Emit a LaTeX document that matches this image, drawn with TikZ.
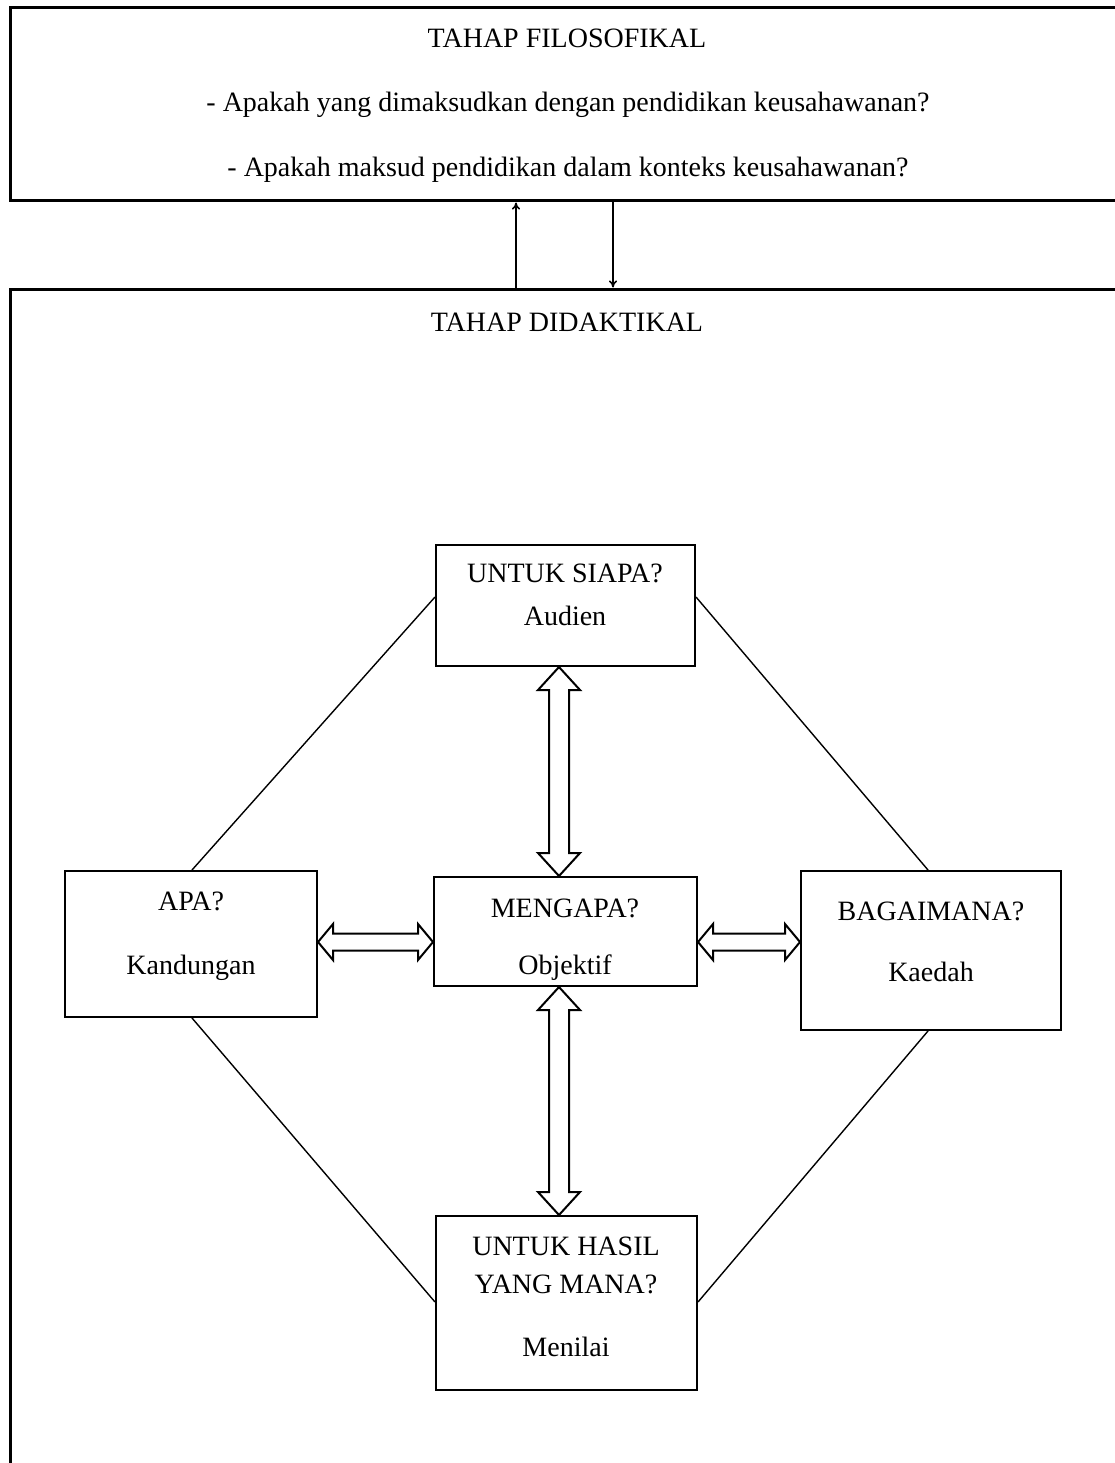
\documentclass[tikz,border=0pt]{standalone}
\usepackage{fontspec}
\setmainfont{Liberation Serif}
\usetikzlibrary{calc,arrows.meta}
\begin{document}
\begin{tikzpicture}[x=1pt,y=-1pt,
  bigbox/.style={draw, line width=3pt, rectangle, inner sep=0pt},
  smallbox/.style={draw, line width=2pt, rectangle, inner sep=0pt},
  txt/.style={inner sep=0pt, font=\fontsize{28}{34}\selectfont},
  link/.style={line width=1.4pt},
  thinarrow/.style={line width=1.6pt, -{To[length=7pt,width=8pt]}},
  fatarrow/.style={draw, line width=2pt, fill=white, line join=miter}
]
\useasboundingbox (0,0) rectangle (1115,1463);
\clip (0,0) rectangle (1115,1463);

% top box
\node[bigbox, minimum width=1115pt, minimum height=193pt] (filo) at (567.5,104.5) {};
\node[txt] (t1) at (567,38) {TAHAP FILOSOFIKAL};
\node[txt] (t2) at (568,105) {- Apakah yang dimaksudkan dengan pendidikan keusahawanan?};
\node[txt] (t3) at (568,170) {- Apakah maksud pendidikan dalam konteks keusahawanan?};

% big box
\node[bigbox, minimum width=1115pt, minimum height=1186pt] (dida) at (567.5,882) {};
\node[txt] (t4) at (567,322) {TAHAP DIDAKTIKAL};

% thin arrows
\coordinate (ua) at (516,0);
\coordinate (da) at (613,0);
\draw[thinarrow] (dida.north -| ua) -- (filo.south -| ua);
\draw[thinarrow] (filo.south -| da) -- (dida.north -| da);

% inner boxes
\node[smallbox, minimum width=259pt, minimum height=121pt] (siapa) at (565.5,605.5) {};
\node[txt] (s1) at (565,573) {UNTUK SIAPA?};
\node[txt] (s2) at (565,616) {Audien};

\node[smallbox, minimum width=263pt, minimum height=109pt] (mengapa) at (565.5,931.5) {};
\node[txt] (m1) at (565,908) {MENGAPA?};
\node[txt] (m2) at (565,968) {Objektif};

\node[smallbox, minimum width=252pt, minimum height=146pt] (apa) at (191,944) {};
\node[txt] (a1) at (191,901) {APA?};
\node[txt] (a2) at (191,968) {Kandungan};

\node[smallbox, minimum width=260pt, minimum height=159pt] (bagai) at (931,950.5) {};
\node[txt] (b1) at (931,911) {BAGAIMANA?};
\node[txt] (b2) at (931,972) {Kaedah};

\node[smallbox, minimum width=261pt, minimum height=174pt] (hasil) at (566.5,1303) {};
\node[txt] (h1) at (566,1246) {UNTUK HASIL};
\node[txt] (h2) at (566,1284) {YANG MANA?};
\node[txt] (h3) at (566,1347) {Menilai};

% diagonal links
\coordinate (yTop) at (0,597);
\coordinate (yBot) at (0,1302);
\coordinate (xA) at (192,0);
\coordinate (xB) at (928,0);
\draw[link] (siapa.west |- yTop) -- (apa.north -| xA);
\draw[link] (siapa.east |- yTop) -- (bagai.north -| xB);
\draw[link] (apa.south -| xA) -- (hasil.west |- yBot);
\draw[link] (bagai.south -| xB) -- (hasil.east |- yBot);

% fat vertical double arrows
\coordinate (vx) at (559,0);
\coordinate (p) at (siapa.south -| vx);
\coordinate (q) at (mengapa.north -| vx);
\path[fatarrow] (p) -- ($(p)+(21,23)$) -- ($(p)+(10,23)$) -- ($(q)+(10,-23)$) -- ($(q)+(21,-23)$) -- (q)
  -- ($(q)+(-21,-23)$) -- ($(q)+(-10,-23)$) -- ($(p)+(-10,23)$) -- ($(p)+(-21,23)$) -- cycle;
\coordinate (p2) at (mengapa.south -| vx);
\coordinate (q2) at (hasil.north -| vx);
\path[fatarrow] (p2) -- ($(p2)+(21,23)$) -- ($(p2)+(10,23)$) -- ($(q2)+(10,-23)$) -- ($(q2)+(21,-23)$) -- (q2)
  -- ($(q2)+(-21,-23)$) -- ($(q2)+(-10,-23)$) -- ($(p2)+(-10,23)$) -- ($(p2)+(-21,23)$) -- cycle;

% fat horizontal double arrows
\coordinate (hy) at (0,942);
\coordinate (l1) at (apa.east |- hy);
\coordinate (r1) at (mengapa.west |- hy);
\path[fatarrow] (l1) -- ($(l1)+(15,-18)$) -- ($(l1)+(15,-8.5)$) -- ($(r1)+(-15,-8.5)$) -- ($(r1)+(-15,-18)$) -- (r1)
  -- ($(r1)+(-15,18)$) -- ($(r1)+(-15,8.5)$) -- ($(l1)+(15,8.5)$) -- ($(l1)+(15,18)$) -- cycle;
\coordinate (l2) at (mengapa.east |- hy);
\coordinate (r2) at (bagai.west |- hy);
\path[fatarrow] (l2) -- ($(l2)+(15,-18)$) -- ($(l2)+(15,-8.5)$) -- ($(r2)+(-15,-8.5)$) -- ($(r2)+(-15,-18)$) -- (r2)
  -- ($(r2)+(-15,18)$) -- ($(r2)+(-15,8.5)$) -- ($(l2)+(15,8.5)$) -- ($(l2)+(15,18)$) -- cycle;
\end{tikzpicture}
\end{document}
